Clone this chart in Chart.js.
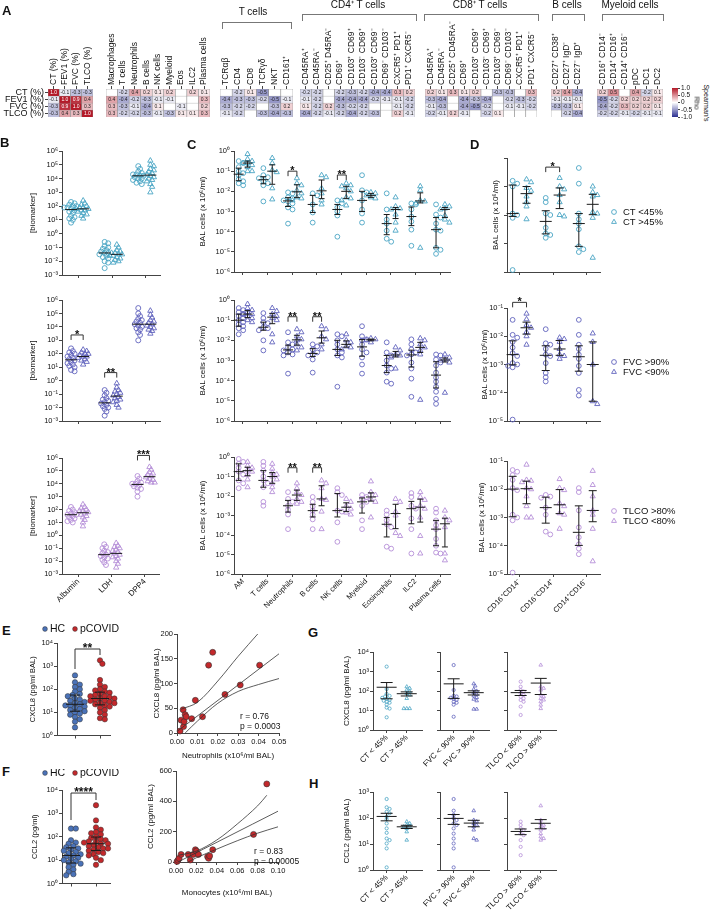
<!DOCTYPE html>
<html>
<head>
<meta charset="utf-8">
<script src="https://cdn.jsdelivr.net/npm/chart.js@4.4.1/dist/chart.umd.min.js"></script>
<style>
  body { margin: 0; width: 713px; height: 919px; position: relative; overflow: hidden; background: #fff;
         font-family: 'Liberation Sans', Arial, sans-serif; color: #111; }
  canvas { position: absolute; }
  .t { position: absolute; white-space: nowrap; line-height: 1; }
  .L { font-weight: bold; font-size: 13px; }
  .h { font-size: 10px; transform: translateX(-50%); }
  .rot { font-size: 7px; transform: translate(-50%, -50%) rotate(90deg); }
  .br { position: absolute; border: 1px solid #777; border-bottom: none; }
</style>
</head>
<body>
<script>
// ---- A: Spearman's rho, rows = lung function ----
const aRows = ['CT (%)', 'FEV1 (%)', 'FVC (%)', 'TLCO (%)'];
const aLung = ['CT (%)', 'FEV1 (%)', 'FVC (%)', 'TLCO (%)'];
const aLungRho = [[1.0, -0.1, -0.3, -0.3], [-0.1, 1.0, 0.9, 0.4], [-0.3, 0.9, 1.0, 0.3], [-0.3, 0.4, 0.3, 1.0]];
const aCells = ['Macrophages', 'T cells', 'Neutrophils', 'B cells', 'NK cells', 'Myeloid', 'Eos', 'ILC2', 'Plasma cells'];
const aCellsRho = [[null, -0.2, 0.4, 0.2, 0.1, 0.2, null, 0.2, 0.1], [0.4, -0.4, -0.2, -0.3, -0.1, -0.1, null, null, 0.3],
                   [0.3, -0.3, -0.1, -0.4, 0.1, null, -0.1, null, 0.2], [0.3, -0.2, -0.2, -0.3, -0.1, -0.3, 0.1, 0.1, 0.3]];
const aT = ['TCRαβ', 'CD4', 'CD8', 'TCRγδ', 'NKT', 'CD161⁺'];
const aTRho = [[null, -0.2, 0.1, -0.5, null, null], [-0.4, -0.3, -0.3, -0.2, -0.5, -0.1],
               [-0.3, -0.2, -0.2, null, -0.3, 0.2], [-0.1, -0.2, null, -0.3, -0.4, -0.3]];
const aCD4 = ['CD45RA⁺', 'CD45RA⁻', 'CD25⁺ D45RA⁻', 'CD69⁺', 'CD103⁺ CD69⁺', 'CD103⁻ CD69⁺', 'CD103⁺ CD69⁻', 'CD69⁻ CD103⁻', 'CXCR5⁺ PD1⁺', 'PD1⁺ CXCR5⁻'];
const aCD4Rho = [[-0.2, -0.2, null, -0.2, -0.3, -0.2, -0.4, -0.4, 0.3, 0.2], [-0.1, -0.2, null, -0.4, -0.4, -0.4, -0.2, -0.1, -0.1, -0.2],
                 [0.1, -0.2, 0.2, -0.3, -0.2, -0.2, null, null, -0.1, -0.2], [-0.4, -0.2, -0.1, -0.2, -0.4, -0.2, -0.3, null, 0.2, -0.1]];
const aCD8 = ['CD45RA⁺', 'CD45RA⁻', 'CD25⁺ CD45RA⁻', 'CD69⁺', 'CD103⁺ CD69⁺', 'CD103⁻ CD69⁺', 'CD103⁺ CD69⁻', 'CD69⁻ CD103⁻', 'CXCR5⁺ PD1⁺', 'PD1⁺ CXCR5⁻'];
const aCD8Rho = [[0.2, 0.1, 0.3, 0.1, 0.2, null, -0.3, -0.3, null, 0.3], [-0.3, -0.4, null, -0.4, -0.3, -0.4, null, -0.2, -0.3, -0.2],
                 [-0.1, -0.3, null, -0.4, -0.5, -0.2, null, -0.1, -0.1, -0.2], [-0.2, -0.1, 0.2, -0.1, null, -0.2, 0.1, null, null, null]];
const aB = ['CD27⁺ CD38⁺', 'CD27⁺ IgD⁻', 'CD27⁻ IgD⁺'];
const aBRho = [[0.2, 0.4, -0.4], [-0.1, -0.1, -0.1], [-0.3, -0.3, 0.1], [null, -0.2, -0.4]];
const aMy = ['CD16⁺ CD14⁻', 'CD14⁺ CD16⁺', 'CD14⁺ CD16⁻', 'pDC', 'DC1', 'DC2'];
const aMyRho = [[0.2, 0.5, null, 0.4, -0.2, 0.1], [-0.5, -0.2, 0.2, 0.2, 0.2, 0.2],
                [-0.4, -0.2, 0.3, 0.2, 0.2, 0.1], [-0.2, -0.2, -0.1, -0.2, -0.1, -0.1]];
const rhoTicks = [1, 0.5, 0, -0.5, -1];

// ---- B: biomarkers, log10 values (circles = first group, triangles = second) ----
const bMarkers = ['Albumin', 'LDH', 'DPP4'];
const bCtUnder45 = [[2.3, 2.2, 2.1, 2.0, 2.0, 1.9, 1.9, 1.8, 1.7, 1.6, 1.5, 1.3, 1.2, 1.1, 1.0, 0.8],
                    [-0.6, -0.7, -0.9, -1.0, -1.1, -1.2, -1.3, -1.4, -1.4, -1.5, -1.6, -1.7, -1.8, -2.0, -2.1, -2.5],
                    [4.9, 4.7, 4.5, 4.4, 4.3, 4.3, 4.2, 4.2, 4.1, 4.0, 4.0, 3.9, 3.8, 3.7, 3.6]];
const bCtOver45 = [[2.4, 2.2, 2.1, 2.0, 1.9, 1.9, 1.8, 1.8, 1.7, 1.7, 1.6, 1.5, 1.4, 1.3, 1.1],
                   [-0.8, -1.0, -1.2, -1.3, -1.4, -1.4, -1.5, -1.5, -1.6, -1.6, -1.7, -1.8, -1.9, -2.0, -2.1],
                   [5.3, 5.0, 4.9, 4.7, 4.6, 4.5, 4.4, 4.3, 4.2, 4.1, 4.0, 3.9, 3.8, 3.6, 3.4, 3.0]];
const bFvcOver90 = [[2.4, 2.2, 2.1, 2.0, 1.9, 1.8, 1.7, 1.6, 1.5, 1.4, 1.3, 1.2, 1.1, 1.0, 0.8, 0.7],
                    [-0.7, -0.9, -1.1, -1.3, -1.4, -1.5, -1.6, -1.7, -1.8, -1.9, -2.0, -2.1, -2.3, -2.6],
                    [5.4, 5.0, 4.8, 4.6, 4.5, 4.4, 4.3, 4.2, 4.1, 4.0, 3.9, 3.8, 3.6, 3.4, 3.0]];
const bFvcUnder90 = [[2.3, 2.2, 2.1, 2.0, 2.0, 1.9, 1.8, 1.8, 1.7, 1.6, 1.5, 1.4, 1.2],
                     [-0.2, -0.5, -0.7, -0.8, -0.9, -1.0, -1.1, -1.2, -1.3, -1.4, -1.5, -1.6, -1.8, -2.0],
                     [5.2, 4.9, 4.7, 4.5, 4.4, 4.3, 4.2, 4.1, 4.0, 3.9, 3.8, 3.7, 3.5]];
const bTlcoOver80 = [[2.2, 2.0, 1.9, 1.8, 1.7, 1.6, 1.6, 1.5, 1.4, 1.3, 1.2, 1.1, 1.0],
                     [-0.7, -0.9, -1.0, -1.2, -1.3, -1.4, -1.5, -1.6, -1.7, -1.8, -1.9, -2.1, -2.3],
                     [4.6, 4.4, 4.2, 4.1, 4.0, 4.0, 3.9, 3.8, 3.7, 3.6, 3.4, 3.0]];
const bTlcoUnder80 = [[2.4, 2.2, 2.1, 2.0, 1.9, 1.9, 1.8, 1.7, 1.6, 1.5, 1.4, 1.2, 1.0, 0.7],
                      [-0.6, -0.8, -0.9, -1.0, -1.1, -1.2, -1.3, -1.4, -1.5, -1.6, -1.7, -1.8, -2.0, -2.2, -2.5],
                      [5.3, 5.1, 4.9, 4.8, 4.7, 4.6, 4.5, 4.4, 4.3, 4.2, 4.1, 4.1]];

// ---- C: BAL cells (x10^6/ml), log10 values ----
const cCells = ['AM', 'T cells', 'Neutrophils', 'B cells', 'NK cells', 'Myeloid', 'Eosinophils', 'ILC2', 'Plasma cells'];
const cCtUnder45 = [[-0.5, -0.6, -0.8, -1.0, -1.1, -1.2, -1.4, -1.5, -1.6, -1.7], [-0.85, -1.2, -1.3, -1.35, -1.5, -1.6, -1.7, -2.5],
  [-2.05, -2.1, -2.3, -2.35, -2.45, -2.5, -2.6, -2.8, -2.9, -3.6], [-2.1, -2.2, -2.65, -3.05, -3.55], [-2.45, -2.6, -2.8, -3.0, -3.2, -4.25],
  [-1.2, -1.95, -2.05, -2.45, -2.9, -3.1, -3.55], [-2.1, -2.9, -3.4, -3.6, -3.95, -4.35, -4.5], [-2.6, -2.65, -2.9, -3.25, -3.5, -3.9, -4.7],
  [-2.65, -3.15, -3.3, -3.6, -3.9, -3.95, -4.8, -4.9, -5.1]];
const cCtOver45 = [[-0.15, -0.4, -0.5, -0.6, -0.6, -0.7, -0.8, -1.0, -1.0], [-0.35, -0.6, -0.95, -1.05, -1.85, -2.4],
  [-1.35, -1.6, -1.7, -1.95, -2.1, -2.3, -2.35, -2.45], [-1.2, -1.3, -1.85, -2.1, -2.45, -2.65], [-1.6, -1.7, -1.75, -1.85, -2.0, -2.3, -2.35, -2.45, -2.7],
  [-2.05, -2.1, -2.2, -2.3, -2.35], [-2.3, -2.75, -2.85, -2.9, -3.15, -3.55, -3.95], [-1.75, -1.95, -2.45, -2.5, -2.6, -4.8],
  [-2.65, -2.75, -2.85, -2.9, -3.2, -3.4, -3.55]];
const cFvcOver90 = [[-0.4, -0.5, -0.6, -0.7, -0.8, -0.9, -1.0, -1.1, -1.2, -1.3, -1.4, -1.5, -1.7], [-0.65, -0.9, -1.1, -1.15, -1.35, -1.4, -1.5, -2.0, -2.5],
  [-1.6, -2.1, -2.2, -2.35, -2.45, -2.5, -2.6, -2.7, -2.75, -3.65], [-2.2, -2.3, -2.45, -2.6, -2.7, -2.75, -2.95, -3.6],
  [-1.7, -1.8, -2.0, -2.2, -2.45, -2.6, -2.75, -2.85, -4.3], [-1.3, -1.8, -1.95, -2.0, -2.2, -2.45, -2.6, -2.85, -3.2, -3.65],
  [-2.1, -2.6, -2.75, -3.0, -3.25, -3.4, -3.6, -4.05, -4.15], [-1.95, -2.2, -2.45, -2.6, -2.7, -2.75, -3.1, -3.4, -3.9, -4.8],
  [-2.7, -2.75, -2.95, -3.1, -3.25, -3.6, -3.85, -4.05, -4.3, -4.55, -4.9, -5.15]];
const cFvcUnder90 = [[-0.2, -0.4, -0.5, -0.6, -0.7, -0.7, -0.8, -0.9, -1.0, -1.1], [-0.4, -0.55, -0.7, -0.8, -0.9, -1.0, -1.7, -2.1],
  [-1.45, -1.6, -1.8, -1.95, -2.0, -2.2, -2.35, -2.5], [-1.3, -1.45, -1.8, -1.95, -2.2, -2.45], [-1.7, -2.0, -2.1, -2.3, -2.35, -2.45],
  [-1.9, -1.95, -2.0, -2.1], [-2.35, -2.5, -2.7, -2.75, -2.85, -3.4], [-1.9, -2.0, -2.2, -2.35, -2.5, -2.7, -4.95],
  [-2.7, -2.85, -2.95, -3.0, -3.1, -4.6]];
const cTlcoOver80 = [[-0.1, -0.25, -0.35, -0.55, -0.75, -0.9, -1.2, -1.35, -1.6], [-0.25, -0.45, -0.7, -1.0, -1.2, -1.35, -1.55, -2.3, -2.5],
  [-1.8, -2.15, -2.3, -2.5, -2.7, -2.95, -3.7], [-2.05, -2.3, -2.55, -2.75, -2.95, -3.2, -3.7], [-1.6, -1.8, -1.95, -2.75, -2.8, -3.35, -4.35],
  [-1.95, -2.05, -2.15, -2.3, -2.5, -3.25, -3.7], [-2.75, -2.95, -3.25, -3.45, -3.6, -4.6, -4.7], [-1.85, -2.05, -2.5, -2.65, -3.15, -3.7, -4.95],
  [-2.65, -2.85, -3.25, -3.5, -3.7, -4.2, -4.55, -4.9, -4.95]];
const cTlcoUnder80 = [[-0.25, -0.45, -0.55, -0.65, -0.75, -0.9, -1.15, -1.55], [-0.35, -0.6, -0.8, -0.9, -1.0, -1.15, -1.35, -1.55, -1.8],
  [-1.35, -1.6, -1.8, -1.95, -2.15, -2.3, -2.4], [-1.2, -1.35, -1.6, -2.15, -2.2, -2.8, -3.7], [-2.15, -2.3, -2.5, -2.65, -2.85, -2.95],
  [-1.25, -1.8, -1.95, -2.15, -2.3, -3.1], [-2.15, -2.3, -2.8, -3.0, -3.9, -4.05], [-1.8, -2.05, -2.2, -2.5, -2.65, -3.1, -4.05, -4.95],
  [-2.75, -3.1, -3.25, -3.6, -4.95, -5.3]];

// ---- D: monocyte subsets, log10 values ----
const dSubsets = ['CD16⁺CD14⁻', 'CD16⁺CD14⁺', 'CD14⁺CD16⁻'];
const dCtUnder45 = [[-1.8, -1.9, -2.0, -2.95, -3.0, -3.1, -4.93], [-2.4, -2.55, -2.95, -3.0, -3.45, -3.65, -3.7, -3.8], [-1.35, -1.9, -2.95, -3.15, -3.3, -3.5, -4.1, -4.2, -4.3]];
const dCtOver45 = [[-1.75, -1.85, -2.05, -2.15, -2.35, -2.55, -2.7, -3.15], [-1.7, -2.0, -2.1, -2.3, -2.55, -3.0, -3.05], [-2.0, -2.2, -2.3, -2.35, -2.9, -2.95, -3.1, -4.5]];
const dFvcOver90 = [[-1.42, -1.95, -2.05, -2.2, -2.4, -2.6, -2.7, -2.95, -3.0, -3.05, -3.1, -4.95], [-1.75, -2.25, -2.3, -2.45, -2.65, -2.7, -2.95, -3.3, -3.45, -3.6], [-1.42, -1.95, -2.3, -2.45, -2.65, -2.8, -3.05, -3.3, -3.9, -4.1]];
const dFvcUnder90 = [[-1.2, -1.4, -1.6, -1.7, -1.85, -2.0, -2.3], [-2.05, -2.1, -2.2, -2.45, -2.65, -2.7, -2.8], [-1.9, -2.2, -3.0, -4.3, -4.4]];
const dTlcoOver80 = [[-1.32, -1.38, -1.5, -1.67, -1.96, -2.03, -2.9, -3.0, -3.1, -4.95], [-2.2, -2.26, -2.3, -2.65, -2.9, -3.5, -3.6], [-1.96, -2.1, -2.75, -3.35, -3.7, -3.95, -4.1, -4.3]];
const dTlcoUnder80 = [[-1.13, -1.67, -1.7, -1.75, -1.96, -2.0, -2.25, -2.6, -3.0, -3.0], [-1.64, -1.96, -2.03, -2.5, -2.6, -2.85, -2.9, -3.4], [-1.35, -1.85, -2.25, -2.75, -2.9, -3.4, -4.55]];

// ---- E / F: HC vs pCOVID (log10) and correlations ----
const eHC = [2.6, 2.3, 2.2, 2.1, 2.0, 1.9, 1.8, 1.75, 1.7, 1.6, 1.55, 1.5, 1.45, 1.4, 1.35, 1.3, 1.3, 1.25, 1.2, 1.15, 1.1, 1.05, 1.0, 0.95, 0.9, 0.8, 0.7, 0.6, 0.35];
const ePCOVID = [3.25, 3.1, 2.4, 2.2, 2.1, 2.0, 1.95, 1.9, 1.85, 1.8, 1.75, 1.7, 1.7, 1.65, 1.6, 1.6, 1.55, 1.5, 1.5, 1.45, 1.4, 1.4, 1.35, 1.3, 1.25, 1.2, 1.1, 1.0, 0.9, 0.75, 0.7];
const fHC = [2.35, 2.35, 1.85, 1.75, 1.7, 1.6, 1.55, 1.5, 1.45, 1.4, 1.35, 1.3, 1.25, 1.2, 1.15, 1.1, 1.05, 1.0, 0.95, 0.9, 0.85, 0.8, 0.7, 0.6, 0.5, 0.4, 0.35];
const fPCOVID = [3.35, 2.7, 2.4, 2.3, 2.2, 2.15, 2.1, 2.0, 1.95, 1.9, 1.85, 1.8, 1.8, 1.75, 1.7, 1.7, 1.65, 1.6, 1.55, 1.5, 1.5, 1.45, 1.4, 1.35, 1.3, 1.25, 1.2, 1.1, 1.0, 0.8];
const eNeutrophils = [0.0015, 0.002, 0.003, 0.0032, 0.0035, 0.004, 0.0045, 0.0072, 0.009, 0.0125, 0.0155, 0.0175, 0.0235, 0.031, 0.0405];
const eCXCL8 = [4, 26, 47, 13, 23, 37, 33, 29, 66, 33, 137, 163, 78, 97, 137];
const eFit = [[0, 3], [0.05, 160]];
const eUpper = [[0.002, 48], [0.01, 62], [0.02, 105], [0.03, 155], [0.04, 202]];
const eLower = [[0.004, 0], [0.01, 24], [0.02, 60], [0.03, 84], [0.04, 98], [0.05, 110]];
const fMonocytes = [0.001, 0.002, 0.003, 0.005, 0.012, 0.014, 0.017, 0.019, 0.020, 0.022, 0.031, 0.032, 0.033, 0.036, 0.076, 0.089];
const fCCL2 = [3, 12, 24, 50, 50, 13, 50, 81, 72, 50, 35, 24, 40, 81, 182, 515];
const fFit = [[0.002, 0], [0.1, 335]];
const fUpper = [[0.003, 45], [0.02, 72], [0.04, 145], [0.06, 250], [0.08, 370], [0.089, 440]];
const fLower = [[0.012, 0], [0.02, 28], [0.04, 85], [0.06, 140], [0.08, 190], [0.1, 232]];

// ---- G / H: cytokines by lung function group (log10) ----
const gCtUnder45 = [3.25, 2.1, 1.85, 1.75, 1.72, 1.65, 1.6, 1.55, 1.5, 1.45, 1.4, 1.3, 1.15, 1.1, 0.65];
const gCtOver45 = [2.22, 2.14, 2.05, 1.97, 1.88, 1.8, 1.62, 1.1, 1.1, 1.1];
const gFvcUnder90 = [3.33, 2.05, 1.75, 1.72, 1.65, 1.6, 1.55, 1.45, 1.4, 1.3, 0.68];
const gFvcOver90 = [2.37, 2.26, 2.09, 2.0, 1.92, 1.83, 1.75, 1.67, 1.58, 1.5, 1.07, 1.07];
const gTlcoUnder80 = [2.48, 2.22, 2.05, 1.97, 1.88, 1.8, 1.71, 1.62, 1.54, 1.45, 1.2, 0.77];
const gTlcoOver80 = [3.33, 2.22, 2.14, 2.05, 1.8, 1.71, 1.62, 1.54, 1.45, 1.28, 1.1];
const hCtUnder45 = [2.73, 2.41, 2.35, 2.24, 2.18, 2.05, 1.95, 1.79, 1.6, 1.43, 1.21, 1.15, 1.02, 0.83, 0.1];
const hCtOver45 = [1.86, 1.79, 1.73, 1.69, 1.67, 1.6, 1.47, 1.15];
const hFvcOver90 = [2.73, 2.28, 2.12, 1.99, 1.92, 1.79, 1.73, 1.6, 1.4, 1.21, 1.02, 0.83, 0.1];
const hFvcUnder90 = [2.28, 1.92, 1.86, 1.79, 1.73, 1.67, 1.54, 1.21, 1.15];
const hTlcoOver80 = [1.86, 1.73, 1.6, 1.54, 1.4, 1.34, 1.15, 0.89, 0.57];
const hTlcoUnder80 = [2.47, 1.92, 1.79, 1.73, 1.67, 1.6, 1.54, 1.4, 1.28, 1.21, 1.15];

// ---------------------------------------------------------------
const FONT = "'Liberation Sans', Arial, sans-serif";
Chart.defaults.font.family = FONT;
Chart.defaults.font.size = 8;
Chart.defaults.color = '#111';
Chart.defaults.plugins.legend.display = false;
Chart.defaults.plugins.tooltip.enabled = false;

const teal = '#4aa5c4', blue = '#6163bd', lav = '#b58fd8', hcBlue = '#4a72b8', red = '#c3282b';
const SUP = { '-': '⁻', 0: '⁰', 1: '¹', 2: '²', 3: '³', 4: '⁴', 5: '⁵', 6: '⁶', 7: '⁷', 8: '⁸', 9: '⁹' };
const pow = v => '10' + String(Math.round(Math.log10(v))).split('').map(c => SUP[c]).join('');
const axisGrid = { drawOnChartArea: false, tickLength: 3, color: '#444', lineWidth: 1 };
const axisBorder = { color: '#444', width: 1 };
const opts = o => Object.assign({ responsive: false, animation: false, devicePixelRatio: 1, events: [] }, o);
const fix = n => s => {
  if (s.isHorizontal()) s.height = n; else s.width = n;
  s.paddingTop = s.paddingBottom = s.paddingLeft = s.paddingRight = 0;
};

function mk(box, pad, cfg) {
  const cv = document.createElement('canvas');
  cv.width = Math.round(box[2] - box[0] + pad[0] + pad[2]);
  cv.height = Math.round(box[3] - box[1] + pad[1] + pad[3]);
  cv.style.left = Math.round(box[0] - pad[0]) + 'px';
  cv.style.top = Math.round(box[1] - pad[1]) + 'px';
  document.body.appendChild(cv);
  return new Chart(cv, cfg);
}

function txt(s, x, y, cls, css) {
  const d = document.createElement('div');
  d.className = 't ' + (cls || '');
  d.textContent = s;
  d.style.left = x + 'px'; d.style.top = y + 'px';
  if (css) d.style.cssText += css;
  document.body.appendChild(d);
}
function bracket(x1, x2, y, h) {
  const d = document.createElement('div');
  d.className = 'br';
  d.style.cssText = `left:${x1}px;top:${y}px;width:${x2 - x1}px;height:${h}px`;
  document.body.appendChild(d);
}

function quant(a, q) {
  const s = [...a].sort((x, y) => x - y), p = (s.length - 1) * q, i = Math.floor(p);
  return s[i] + ((s[Math.min(i + 1, s.length - 1)] - s[i]) * (p - i));
}
function stat(es, x, kind) {
  if (kind === 'sem') {
    const v = es.map(e => 10 ** e), n = v.length, m = v.reduce((a, c) => a + c, 0) / n;
    const se = Math.sqrt(v.reduce((a, c) => a + (c - m) ** 2, 0) / (n - 1)) / Math.sqrt(n);
    return { x, m, lo: Math.max(m - se, 1e-9), hi: m + se };
  }
  const q = p => 10 ** quant(es, p);
  return kind === 'med' ? { x, m: q(0.5) } : { x, m: q(0.5), lo: q(0.25), hi: q(0.75) };
}

// simple beeswarm: spread points that would overlap too much
function swarm(es, cx, pxX, pxY, d) {
  const placed = [], xs = [];
  es.map((e, i) => i).sort((a, b) => es[b] - es[a]).forEach(i => {
    const y = es[i] * pxY;
    let off = 0;
    for (let k = 0; k < 40; k++) {
      const c = (k % 2 ? 1 : -1) * Math.ceil(k / 2) * d * 0.6;
      if (placed.every(p => (p[0] - c) ** 2 + (p[1] - y) ** 2 >= d * d)) { off = c; break; }
    }
    placed.push([off, y]);
    xs[i] = cx + off / pxX;
  });
  return xs;
}

function drawMarker(ctx, kind, x, y, r, color) {
  ctx.beginPath();
  if (kind === 'triangle') {
    ctx.moveTo(x, y - r); ctx.lineTo(x + r * 0.87, y + r / 2); ctx.lineTo(x - r * 0.87, y + r / 2); ctx.closePath();
  } else ctx.arc(x, y, r, 0, Math.PI * 2);
  if (kind === 'dot') { ctx.fillStyle = color; ctx.fill(); ctx.strokeStyle = '#333'; ctx.lineWidth = 0.5; ctx.stroke(); }
  else { ctx.strokeStyle = color; ctx.lineWidth = 0.9; ctx.stroke(); }
}

function marks(spec) {
  return {
    id: 'marks',
    afterDatasetsDraw(chart) {
      const ctx = chart.ctx, xs = chart.scales.x, ys = chart.scales.y;
      const L = chart.canvas.offsetLeft, T = chart.canvas.offsetTop;
      const line = (a, b, c, d) => { ctx.beginPath(); ctx.moveTo(a, b); ctx.lineTo(c, d); ctx.stroke(); };
      ctx.save();
      ctx.strokeStyle = '#1a1a1a'; ctx.lineWidth = 1;
      (spec.stats || []).forEach(s => {
        const x = xs.getPixelForValue(s.x), m = ys.getPixelForValue(s.m);
        if (s.lo != null) {
          const lo = ys.getPixelForValue(s.lo), hi = ys.getPixelForValue(s.hi);
          line(x, lo, x, hi); line(x - spec.cw, lo, x + spec.cw, lo); line(x - spec.cw, hi, x + spec.cw, hi);
        }
        line(x - spec.mw, m, x + spec.mw, m);
      });
      (spec.brackets || []).forEach(b => {
        const x1 = xs.getPixelForValue(b.x1), x2 = xs.getPixelForValue(b.x2), y = ys.getPixelForValue(b.y);
        ctx.strokeStyle = '#333'; ctx.lineWidth = 1;
        ctx.beginPath(); ctx.moveTo(x1, y + (b.d1 || 5)); ctx.lineTo(x1, y); ctx.lineTo(x2, y); ctx.lineTo(x2, y + (b.d2 || 5)); ctx.stroke();
        ctx.fillStyle = '#111'; ctx.font = `bold ${b.fs || 11}px ${FONT}`; ctx.textAlign = 'center'; ctx.textBaseline = 'alphabetic';
        ctx.fillText(b.t, (x1 + x2) / 2, y + 3);
      });
      (spec.texts || []).forEach(t => {
        const x = t.x - L, y = t.y - T;
        if (t.mk) drawMarker(ctx, t.mk, x, y, t.r || 2.4, t.color);
        else {
          ctx.fillStyle = '#111'; ctx.font = `${t.fs || 9}px ${FONT}`;
          ctx.textAlign = 'left'; ctx.textBaseline = 'middle';
          ctx.fillText(t.t, x, y);
        }
      });
      ctx.restore();
    }
  };
}

function dotPlot(o) {
  const [x0, y0, x1, y1] = o.box;
  const pxX = (x1 - x0) / (o.xr[1] - o.xr[0]), pxY = (y1 - y0) / (o.yr[1] - o.yr[0]);
  const datasets = [], stats = [];
  o.groups.forEach(g => {
    const xs = swarm(g.e, g.x, pxX, pxY, o.sw || g.r * 1.4);
    datasets.push({
      data: g.e.map((e, i) => ({ x: xs[i], y: 10 ** e })),
      pointStyle: g.shape, pointRadius: g.r, pointBorderWidth: g.bw || 0.9,
      pointBorderColor: g.line || g.color, pointBackgroundColor: g.fill || 'rgba(255,255,255,0)', clip: false
    });
    if (o.stat) stats.push(stat(g.e, g.x, o.stat));
  });
  const brackets = (o.brackets || []).map(b => Object.assign({}, b, { y: 10 ** b.e }));
  return mk(o.box, o.pad, {
    type: 'scatter',
    data: { datasets },
    options: opts({
      layout: { padding: { left: 0, top: o.pad[1], right: o.pad[2], bottom: 0 } },
      scales: {
        x: { type: 'linear', min: o.xr[0], max: o.xr[1], afterFit: fix(o.pad[3]),
             afterBuildTicks: s => { s.ticks = o.ticks.map(value => ({ value })); },
             ticks: { callback: (v, i) => (o.xlabels ? o.xlabels[i] : ''), minRotation: 45, maxRotation: 45, autoSkip: false, font: { size: o.xfs || 8 }, padding: 0 },
             grid: axisGrid, border: axisBorder },
        y: { type: 'logarithmic', min: 10 ** o.yr[0], max: 10 ** o.yr[1], afterFit: fix(o.pad[0]),
             afterBuildTicks: s => { s.ticks = []; for (let e = o.yr[0]; e <= o.yr[1]; e++) s.ticks.push({ value: 10 ** e }); },
             ticks: { callback: v => (o.ylabels === false ? '' : pow(v)), autoSkip: false, font: { size: 7.5 }, padding: 1 },
             grid: axisGrid, border: axisBorder,
             title: { display: !!o.ytitle, text: o.ytitle, font: { size: o.tfs || 8 }, padding: 0 } }
      }
    }),
    plugins: [marks({ stats, mw: o.mw, cw: o.cw, brackets, texts: o.texts })]
  });
}

function pairs(a, b, color, dxA, dxB, r) {
  const g = [];
  a.forEach((e, i) => g.push({ e, x: i + dxA, shape: 'circle', color, r }));
  b.forEach((e, i) => g.push({ e, x: i + dxB, shape: 'triangle', color, r: r + 0.6 }));
  return g;
}

function corrPlot(o) {
  const fitLine = pts => ({ data: pts.map(p => ({ x: p[0], y: p[1] })), showLine: true, pointRadius: 0,
                            borderColor: '#333', borderWidth: 0.8, tension: 0.35, fill: false });
  return mk(o.box, o.pad, {
    type: 'scatter',
    data: { datasets: [
      ...o.fits.map(fitLine),
      { data: o.xv.map((x, i) => ({ x, y: o.yv[i] })), pointRadius: 3, pointBackgroundColor: red,
        pointBorderColor: '#333', pointBorderWidth: 0.6, clip: false }
    ] },
    options: opts({
      layout: { padding: { left: 0, top: o.pad[1], right: o.pad[2], bottom: 0 } },
      scales: {
        x: { type: 'linear', min: 0, max: o.xmax, afterFit: fix(o.pad[3]),
             afterBuildTicks: s => { s.ticks = o.xticks.map(value => ({ value })); },
             ticks: { callback: v => v.toFixed(2), maxRotation: 0, autoSkip: false, font: { size: 7.5 }, padding: 1 },
             grid: axisGrid, border: axisBorder,
             title: { display: true, text: o.xtitle, font: { size: 8 }, padding: 0 } },
        y: { type: 'linear', min: 0, max: o.ymax, afterFit: fix(o.pad[0]),
             afterBuildTicks: s => { s.ticks = o.yticks.map(value => ({ value })); },
             ticks: { autoSkip: false, font: { size: 7.5 }, padding: 1 },
             grid: axisGrid, border: axisBorder,
             title: { display: true, text: o.ytitle, font: { size: 8 }, padding: 0 } }
      }
    }),
    plugins: [marks({ texts: o.texts })]
  });
}

// ---------------- panel A ----------------
function rhoColor(v) {
  if (v == null) return '#ffffff';
  const c = v > 0 ? [180, 25, 40] : [42, 46, 145], a = Math.min(Math.abs(v), 1);
  return `rgb(${c.map(k => Math.round(255 + (k - 255) * a)).join(',')})`;
}
const cellText = {
  id: 'cellText',
  afterDatasetsDraw(chart) {
    const ctx = chart.ctx;
    ctx.save();
    ctx.font = `5px ${FONT}`; ctx.textAlign = 'center'; ctx.textBaseline = 'middle';
    chart.data.datasets.forEach((ds, di) => chart.getDatasetMeta(di).data.forEach((bar, i) => {
      const v = ds.rho[i];
      if (v == null) return;
      const p = bar.getProps(['x', 'y', 'base'], true);
      ctx.fillStyle = Math.abs(v) >= 0.7 ? '#fff' : '#222';
      ctx.fillText(v.toFixed(1), p.x, (p.y + p.base) / 2 + 0.5);
    }));
    ctx.restore();
  }
};
function heat(labels, vals, x0, x1, rows) {
  const padL = rows ? 50 : 0;
  const datasets = vals.map(row => ({
    data: row.map(() => 1), rho: row,
    backgroundColor: row.map(rhoColor), borderColor: '#8f8f8f', borderWidth: 0.6,
    barPercentage: 1, categoryPercentage: 1
  })).reverse();
  mk([x0, 89, x1, 117], [padL, 89, 0, 1], {
    type: 'bar',
    data: { labels, datasets },
    options: opts({
      layout: { padding: { left: 0, top: 0, right: 0, bottom: 1 } },
      scales: {
        x: { position: 'top', stacked: true, afterFit: fix(89),
             ticks: { minRotation: 90, maxRotation: 90, autoSkip: false, labelOffset: 10, font: { size: 8.5 }, padding: 1 },
             grid: { offset: false, drawOnChartArea: false, tickLength: 3, color: '#444' }, border: { display: false } },
        y: { display: !!rows, stacked: true, min: 0, max: 4, afterFit: fix(padL),
             afterBuildTicks: s => { s.ticks = [0.5, 1.5, 2.5, 3.5].map(value => ({ value })); },
             ticks: { callback: v => (rows ? rows[3 - Math.floor(v)] : ''), autoSkip: false, font: { size: 9 }, padding: 1 },
             grid: { drawOnChartArea: false, tickLength: 3, color: '#444' }, border: { display: false } }
      }
    }),
    plugins: [cellText]
  });
}
heat(aLung, aLungRho, 48, 93, aRows);
heat(aCells, aCellsRho, 106, 210);
heat(aT, aTRho, 220, 293);
heat(aCD4, aCD4Rho, 300, 415);
heat(aCD8, aCD8Rho, 425, 537);
heat(aB, aBRho, 551, 583);
heat(aMy, aMyRho, 597, 663);

// colour bar
mk([672, 88, 678, 117], [0, 4, 22, 4], {
  type: 'bar',
  data: { labels: [''], datasets: [{ data: [[-1, 1]], barPercentage: 1, categoryPercentage: 1, borderWidth: 0,
    backgroundColor: c => {
      const a = c.chart.chartArea;
      if (!a) return '#fff';
      const g = c.chart.ctx.createLinearGradient(0, a.bottom, 0, a.top);
      for (let i = 0; i <= 20; i++) g.addColorStop(i / 20, rhoColor(-1 + i / 10));
      return g;
    } }] },
  options: opts({
    layout: { padding: { left: 0, top: 4, right: 0, bottom: 4 } },
    scales: {
      x: { display: false },
      y: { position: 'right', min: -1, max: 1, afterFit: fix(22),
           afterBuildTicks: s => { s.ticks = rhoTicks.map(value => ({ value })); },
           ticks: { callback: v => (v === 0 ? '0' : v.toFixed(1)), autoSkip: false, font: { size: 6.5 }, padding: 1 },
           grid: { drawOnChartArea: false, tickLength: 2, color: '#444' }, border: { display: false } }
    }
  })
});
txt("Spearman's", 706, 103, 'rot');
txt('Rho', 697, 103, 'rot');

txt('T cells', 253, 7, 'h');
bracket(222, 290, 22, 6);
txt('CD4⁺ T cells', 358, 0, 'h');
bracket(302, 415, 14, 6);
txt('CD8⁺ T cells', 480, 0, 'h');
bracket(424, 537, 14, 6);
txt('B cells', 567, 0, 'h');
bracket(552, 583, 14, 6);
txt('Myeloid cells', 630, 0, 'h');
bracket(602, 662, 14, 6);

// ---------------- panel B ----------------
const bX = { xr: [-0.49, 2.43], ticks: [0, 1, 2], stat: 'med', mw: 6, cw: 0, yr: [-3, 6], ytitle: '[biomarker]', sw: 3.0 };
dotPlot(Object.assign({}, bX, { box: [62, 151, 163, 275], pad: [34, 8, 2, 6],
  groups: pairs(bCtUnder45, bCtOver45, teal, -0.22, 0.14, 2.5) }));
dotPlot(Object.assign({}, bX, { box: [62, 300, 163, 421], pad: [34, 8, 2, 6],
  groups: pairs(bFvcOver90, bFvcUnder90, blue, -0.22, 0.14, 2.5),
  brackets: [{ x1: -0.22, x2: 0.14, e: 3.4, t: '*' }, { x1: 0.78, x2: 1.14, e: 0.6, t: '**' }] }));
dotPlot(Object.assign({}, bX, { box: [62, 458, 162, 574], pad: [34, 16, 2, 34], xlabels: bMarkers,
  groups: pairs(bTlcoOver80, bTlcoUnder80, lav, -0.22, 0.14, 2.5),
  brackets: [{ x1: 1.78, x2: 2.14, e: 6.2, t: '***' }] }));

// ---------------- panel C ----------------
const cX = { xr: [-0.36, 8.4], ticks: [0, 1, 2, 3, 4, 5, 6, 7, 8], stat: 'iqr', mw: 5, cw: 3, yr: [-6, 0], ytitle: 'BAL cells (x 10⁶/ml)', sw: 3.8 };
dotPlot(Object.assign({}, cX, { box: [234, 151, 453, 272], pad: [36, 6, 2, 6],
  groups: pairs(cCtUnder45, cCtOver45, teal, -0.17, 0.19, 2.4),
  brackets: [{ x1: 1.83, x2: 2.19, e: -1.0, t: '*' }, { x1: 3.83, x2: 4.19, e: -1.19, t: '**' }] }));
dotPlot(Object.assign({}, cX, { box: [234, 300, 453, 421], pad: [36, 6, 2, 6],
  groups: pairs(cFvcOver90, cFvcUnder90, blue, -0.17, 0.19, 2.4),
  brackets: [{ x1: 1.83, x2: 2.19, e: -0.83, t: '**' }, { x1: 2.83, x2: 3.19, e: -0.83, t: '**' }] }));
dotPlot(Object.assign({}, cX, { box: [234, 457, 453, 574], pad: [36, 6, 2, 44], xlabels: cCells, xfs: 7.5,
  groups: pairs(cTlcoOver80, cTlcoUnder80, lav, -0.17, 0.19, 2.4),
  brackets: [{ x1: 1.83, x2: 2.19, e: -0.55, t: '**' }, { x1: 2.83, x2: 3.19, e: -0.55, t: '**' }] }));

// ---------------- panel D ----------------
const dX = { xr: [-0.39, 2.42], ticks: [0, 1, 2], stat: 'iqr', mw: 6, cw: 4, yr: [-5, -1], ytitle: 'BAL cells (x 10⁶/ml)', sw: 3.8 };
const legend = (a, b, color, y) => [
  { mk: 'circle', color, x: 614, y }, { t: a, x: 623, y, fs: 9.5 },
  { mk: 'triangle', color, x: 614, y: y + 10, r: 2.8 }, { t: b, x: 623, y: y + 10, fs: 9.5 }];
dotPlot(Object.assign({}, dX, { box: [507, 158, 600, 272], pad: [16, 6, 82, 6], ylabels: false,
  groups: pairs(dCtUnder45, dCtOver45, teal, -0.22, 0.2, 2.4),
  brackets: [{ x1: 0.78, x2: 1.2, e: -1.32, t: '*' }], texts: legend('CT <45%', 'CT >45%', teal, 212) }));
dotPlot(Object.assign({}, dX, { box: [507, 308, 600, 421], pad: [27, 14, 82, 6],
  groups: pairs(dFvcOver90, dFvcUnder90, blue, -0.22, 0.2, 2.4),
  brackets: [{ x1: -0.22, x2: 0.2, e: -0.8, t: '*' }], texts: legend('FVC >90%', 'FVC <90%', blue, 362) }));
dotPlot(Object.assign({}, dX, { box: [507, 461, 600, 574], pad: [30, 6, 82, 44], xlabels: dSubsets, xfs: 7.5,
  groups: pairs(dTlcoOver80, dTlcoUnder80, lav, -0.22, 0.2, 2.4),
  texts: legend('TLCO >80%', 'TLCO <80%', lav, 511) }));

// ---------------- panels E / F ----------------
const hcLegend = y => [{ mk: 'dot', color: hcBlue, x: 45, y }, { t: 'HC', x: 50, y, fs: 10.5 },
                       { mk: 'dot', color: red, x: 75, y }, { t: 'pCOVID', x: 80, y, fs: 10.5 }];
dotPlot({ box: [57, 643, 110, 736], pad: [29, 21, 15, 4], xr: [-0.72, 1.4], ticks: [0, 1], yr: [0, 4], sw: 4.0,
  ytitle: 'CXCL8 (pg/ml BAL)', tfs: 7.5, stat: 'iqr', mw: 9, cw: 5,
  groups: [{ e: eHC, x: 0, shape: 'circle', r: 2.7, fill: hcBlue, line: '#333', bw: 0.5 },
           { e: ePCOVID, x: 1, shape: 'circle', r: 2.7, fill: red, line: '#333', bw: 0.5 }],
  brackets: [{ x1: 0, x2: 1, e: 3.74, t: '**', d1: 20, d2: 6, fs: 12 }], texts: hcLegend(629) });
dotPlot({ box: [62, 790, 110, 884], pad: [32, 21, 15, 4], xr: [-0.36, 1.56], ticks: [0, 1], yr: [0, 4], sw: 4.0,
  ytitle: 'CCL2 (pg/ml)', tfs: 7.5, stat: 'iqr', mw: 9, cw: 5,
  groups: [{ e: fHC, x: 0, shape: 'circle', r: 2.7, fill: hcBlue, line: '#333', bw: 0.5 },
           { e: fPCOVID, x: 1, shape: 'circle', r: 2.7, fill: red, line: '#333', bw: 0.5 }],
  brackets: [{ x1: 0, x2: 1, e: 3.87, t: '****', d1: 27, d2: 7, fs: 12 }], texts: hcLegend(773) });

corrPlot({ box: [177, 634, 279, 733], pad: [25, 5, 22, 28], xv: eNeutrophils, yv: eCXCL8, fits: [eFit, eUpper, eLower],
  xmax: 0.05, xticks: [0, 0.01, 0.02, 0.03, 0.04, 0.05], ymax: 200, yticks: [0, 50, 100, 150, 200],
  xtitle: 'Neutrophils (x10⁶/ml BAL)', ytitle: 'CXCL8 (pg/ml BAL)',
  texts: [{ t: 'r = 0.76', x: 240, y: 717, fs: 8.5 }, { t: 'p = 0.0003', x: 240, y: 727, fs: 8.5 }] });
corrPlot({ box: [176, 771, 278, 862], pad: [30, 5, 22, 36], xv: fMonocytes, yv: fCCL2, fits: [fFit, fUpper, fLower],
  xmax: 0.1, xticks: [0, 0.02, 0.04, 0.06, 0.08, 0.1], ymax: 600, yticks: [0, 200, 400, 600],
  xtitle: 'Monocytes (x10⁶/ml BAL)', ytitle: 'CCL2 (pg/ml BAL)',
  texts: [{ t: 'r = 0.83', x: 254, y: 852, fs: 8.5 }, { t: 'p = 0.00005', x: 254, y: 862, fs: 8.5 }] });

// ---------------- panels G / H ----------------
function cytoRow(y0, y1, yr, title, sets) {
  sets.forEach((s, k) => {
    const x0 = [373, 440, 507][k];
    dotPlot({ box: [x0, y0, x0 + 52, y1], pad: [k ? 40 : 31, 6, 2, 46], xr: [-0.68, 1.77], ticks: [0, 1], yr, sw: 2.6,
      ylabels: k === 0, ytitle: k === 0 ? title : '', xlabels: s.labels, stat: 'sem', mw: 10, cw: 6,
      groups: [{ e: s.a, x: 0, shape: 'circle', r: 1.6, color: s.color, bw: 0.8 },
               { e: s.b, x: 1, shape: 'triangle', r: 2.1, color: s.color, bw: 0.8 }] });
  });
}
cytoRow(652, 730, [0, 4], 'CXCL8 (pg/ml BAL)', [
  { a: gCtUnder45, b: gCtOver45, color: teal, labels: ['CT < 45%', 'CT > 45%'] },
  { a: gFvcUnder90, b: gFvcOver90, color: blue, labels: ['FVC < 90%', 'FVC > 90%'] },
  { a: gTlcoUnder80, b: gTlcoOver80, color: lav, labels: ['TLCO < 80%', 'TLCO > 80%'] }]);
cytoRow(792, 870, [0, 3], 'CCL2 (pg/ml BAL)', [
  { a: hCtUnder45, b: hCtOver45, color: teal, labels: ['CT < 45%', 'CT > 45%'] },
  { a: hFvcOver90, b: hFvcUnder90, color: blue, labels: ['FVC > 90%', 'FVC < 90%'] },
  { a: hTlcoOver80, b: hTlcoUnder80, color: lav, labels: ['TLCO > 80%', 'TLCO < 80%'] }]);

// panel letters
[['A', 2, 4], ['B', 0, 136], ['C', 187, 138], ['D', 470, 138], ['E', 2, 624], ['F', 2, 765], ['G', 308, 626], ['H', 309, 777]]
  .forEach(([s, x, y]) => txt(s, x, y, 'L'));
</script>
</body>
</html>
